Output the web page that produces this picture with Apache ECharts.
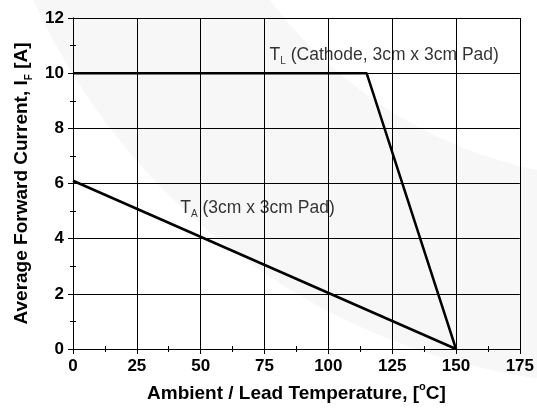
<!DOCTYPE html>
<html><head><meta charset="utf-8">
<script src="https://cdn.jsdelivr.net/npm/echarts@6/dist/echarts.min.js"></script>
<style>html,body{margin:0;padding:0;background:#fff}#c{width:537px;height:408px}</style>
</head><body><div id="c"></div>
<script>
const tlTemp = [0, 115, 150];
const tlCurrent = [10, 10, 0];
const taTemp = [0, 150];
const taCurrent = [6.1, 0];
const xTicks = [0, 25, 50, 75, 100, 125, 150, 175];
const yTicks = [0, 2, 4, 6, 8, 10, 12];
const labelTL = {x: 77, y: 10.6};
const labelTA = {x: 42, y: 5.07};

const F = 'Liberation Sans, Arial, sans-serif';
const chart = echarts.init(document.getElementById('c'));
const axCommon = {
  axisLine: {show: true, lineStyle: {color: '#000', width: 1}},
  axisTick: {show: true, inside: true, length: 5, lineStyle: {color: '#000'}},
  minorTick: {show: true, splitNumber: 2, length: 3, lineStyle: {color: '#000'}},
};
chart.setOption({
  animation: false,
  backgroundColor: '#fff',
  graphic: [{
    type: 'ring', z: -10, silent: true,
    shape: {cx: 630, cy: -270, r: 655, r0: 450},
    style: {fill: '#f7f7f7'}
  }],
  grid: {left: 73, right: 16, top: 18, bottom: 57, containLabel: false},
  xAxis: [
    Object.assign({}, axCommon, {
      type: 'value', min: xTicks[0], max: xTicks[xTicks.length-1], interval: 25,
      position: 'bottom',
      axisLabel: {color: '#000', fontFamily: F, fontWeight: 'bold', fontSize: 17, margin: 9},
      splitLine: {show: true, lineStyle: {color: '#000', width: 1}},
      name: '{n|Ambient / Lead Temperature, [}{s|o}{n|C]}',
      nameLocation: 'middle', nameGap: 32,
      nameTextStyle: {rich: {
        n: {fontFamily: F, fontWeight: 'bold', fontSize: 19, color: '#000', verticalAlign: 'bottom', lineHeight: 22},
        s: {fontFamily: F, fontWeight: 'bold', fontSize: 11, color: '#000', verticalAlign: 'top', lineHeight: 22}
      }}
    }),
    Object.assign({}, axCommon, {
      type: 'value', min: 0, max: 175, interval: 25, position: 'top',
      axisLabel: {show: false}, splitLine: {show: false}
    })
  ],
  yAxis: [
    Object.assign({}, axCommon, {
      type: 'value', min: yTicks[0], max: yTicks[yTicks.length-1], interval: 2,
      position: 'left',
      axisLabel: {color: '#000', fontFamily: F, fontWeight: 'bold', fontSize: 17, margin: 9},
      splitLine: {show: true, lineStyle: {color: '#000', width: 1}},
      name: '{n|Average Forward Current, I}{s|F}{n| [A]}',
      nameLocation: 'middle', nameGap: 37, nameRotate: 90,
      nameTextStyle: {rich: {
        n: {fontFamily: F, fontWeight: 'bold', fontSize: 19, color: '#000', verticalAlign: 'top', lineHeight: 22},
        s: {fontFamily: F, fontWeight: 'bold', fontSize: 10, color: '#000', verticalAlign: 'bottom', lineHeight: 22}
      }}
    }),
    Object.assign({}, axCommon, {
      type: 'value', min: 0, max: 12, interval: 2, position: 'right',
      axisLabel: {show: false}, splitLine: {show: false}
    })
  ],
  series: [
    {type: 'line', data: tlTemp.map((t,i)=>[t, tlCurrent[i]]), symbol: 'none',
     lineStyle: {color: '#000', width: 2.5}, z: 5},
    {type: 'line', data: taTemp.map((t,i)=>[t, taCurrent[i]]), symbol: 'none',
     lineStyle: {color: '#000', width: 2.5}, z: 5},
    {type: 'scatter', symbolSize: 0, z: 6,
     data: [
       {value: [labelTL.x, labelTL.y], label: {formatter: '{n|T}{s|L}{n| (Cathode, 3cm x 3cm Pad)}'}},
       {value: [labelTA.x, labelTA.y], label: {formatter: '{n|T}{s|A}{n| (3cm x 3cm Pad)}'}}
     ],
     label: {show: true, position: 'right', distance: 0,
       rich: {
         n: {fontFamily: F, fontSize: 17.5, color: '#000', verticalAlign: 'top', lineHeight: 20},
         s: {fontFamily: F, fontSize: 10, color: '#000', verticalAlign: 'bottom', lineHeight: 20}
       }}
    }
  ]
});
</script></body></html>
